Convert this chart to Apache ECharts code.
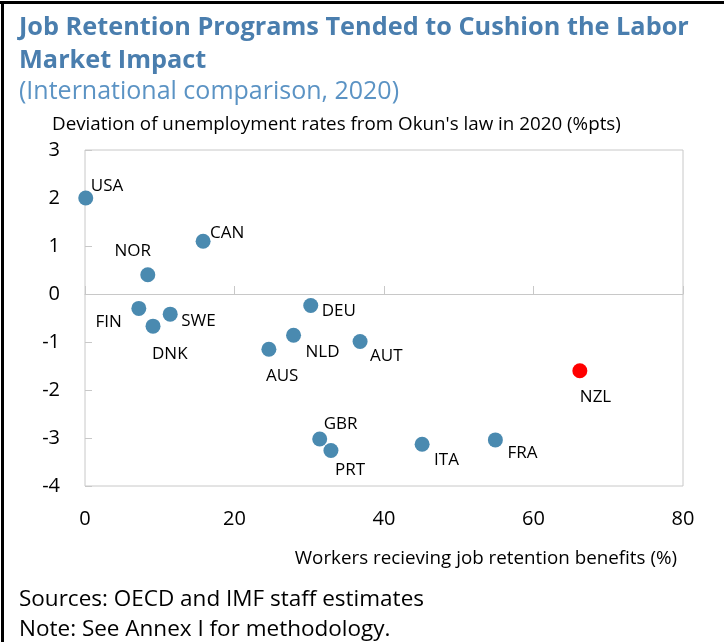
<!DOCTYPE html>
<html>
<head>
<meta charset="utf-8">
<script src="https://cdn.jsdelivr.net/npm/echarts@6/dist/echarts.min.js"></script>
<style>
  html, body { margin: 0; padding: 0; background: #fff; }
  #chart { width: 724px; height: 642px; }
</style>
</head>
<body>
<div id="chart"></div>
<script>
  // countries and their values
  const countries = ['USA', 'CAN', 'NOR', 'FIN', 'SWE', 'DNK', 'DEU', 'NLD', 'AUS', 'AUT', 'GBR', 'PRT', 'ITA', 'FRA', 'NZL']
  const benefitsPct = [0.1, 15.8, 8.4, 7.2, 11.4, 9.1, 30.2, 27.9, 24.6, 36.8, 31.4, 32.9, 45.1, 54.9, 66.2]
  const okunDeviation = [2.0, 1.1, 0.4, -0.3, -0.42, -0.67, -0.24, -0.86, -1.15, -0.99, -3.02, -3.26, -3.13, -3.04, -1.6]
  const highlight = 'NZL'

  const xTicks = [0, 20, 40, 60, 80]
  const yTicks = [-4, -3, -2, -1, 0, 1, 2, 3]

  // label placement next to each dot (px offset from the dot centre)
  const labelPlace = {
    USA: [5, -12, 'left'], CAN: [7, -8, 'left'], NOR: [-15, -24, 'center'],
    FIN: [-17, 14, 'right'], SWE: [11, 7, 'left'], DNK: [-1, 28, 'left'],
    DEU: [11, 6, 'left'], NLD: [12, 17, 'left'], AUS: [-3, 27, 'left'],
    AUT: [10, 15, 'left'], GBR: [4, -15, 'left'], PRT: [4, 20, 'left'],
    ITA: [12, 16, 'left'], FRA: [12, 13, 'left'], NZL: [0, 26, 'left']
  }

  const font = '"Open Sans", "Noto Sans", sans-serif'
  const blue = '#4a8ab0'
  const frame = '#c8c8c8'

  const points = countries.map((c, i) => {
    const p = labelPlace[c]
    return {
      name: c,
      value: [benefitsPct[i], okunDeviation[i]],
      itemStyle: { color: c === highlight ? '#ff0000' : blue, opacity: 1 },
      label: {
        show: true,
        position: 'inside',
        offset: [p[0], p[1]],
        align: p[2],
        verticalAlign: 'middle',
        formatter: c,
        color: '#000',
        fontSize: 17,
        fontFamily: font
      }
    }
  })

  const chart = echarts.init(document.getElementById('chart'), null, { renderer: 'canvas' })
  chart.setOption({
    animation: false,
    backgroundColor: '#fff',
    textStyle: { fontFamily: font },
    title: [
      {
        text: 'Job Retention Programs Tended to Cushion the Labor\nMarket Impact',
        left: 14,
        top: 6,
        textStyle: { color: '#4a7eae', fontSize: 25.3, fontWeight: 'bold', lineHeight: 33, fontFamily: font }
      },
      {
        text: '(International comparison, 2020)',
        left: 14,
        top: 71,
        textStyle: { color: '#5b93c4', fontSize: 25, fontWeight: 'normal', lineHeight: 32, fontFamily: font }
      },
      {
        text: 'Sources: OECD and IMF staff estimates\nNote: See Annex I for methodology.',
        left: 14,
        top: 580,
        textStyle: { color: '#000', fontSize: 22.5, fontWeight: 'normal', lineHeight: 30, fontFamily: font }
      }
    ],
    graphic: [
      { type: 'rect', shape: { x: 0, y: 1, width: 724, height: 3 }, style: { fill: '#000' } },
      { type: 'rect', shape: { x: 1, y: 1, width: 3, height: 642 }, style: { fill: '#000' } },
      {
        type: 'text', left: 52, top: 115,
        style: { text: "Deviation of unemployment rates from Okun's law in 2020 (%pts)", fill: '#000', font: '18.8px ' + font }
      },
      {
        type: 'text', right: 47, top: 549,
        style: { text: 'Workers recieving job retention benefits (%)', fill: '#000', font: '18.8px ' + font }
      }
    ],
    grid: {
      left: 85, right: 41, top: 150, bottom: 156,
      show: true, borderColor: frame, borderWidth: 1, backgroundColor: 'transparent'
    },
    xAxis: [
      {
        type: 'value', position: 'bottom',
        min: xTicks[0], max: xTicks[xTicks.length - 1], interval: 20,
        axisLine: { show: false, onZero: false },
        axisTick: { show: false },
        splitLine: { show: false },
        axisLabel: { color: '#000', fontSize: 20, margin: 23, fontFamily: font }
      },
      {
        type: 'value', position: 'bottom',
        min: xTicks[0], max: xTicks[xTicks.length - 1], interval: 20,
        axisLine: { show: true, onZero: true, lineStyle: { color: frame, width: 1 } },
        axisTick: { show: true, inside: true, length: 8, lineStyle: { color: frame } },
        splitLine: { show: false },
        axisLabel: { show: false }
      }
    ],
    yAxis: {
      type: 'value',
      min: yTicks[0], max: yTicks[yTicks.length - 1], interval: 1,
      axisLine: { show: false },
      axisTick: { show: true, inside: true, length: 7, lineStyle: { color: frame } },
      splitLine: { show: false },
      axisLabel: { color: '#000', fontSize: 20, margin: 25, fontFamily: font }
    },
    series: [
      {
        type: 'scatter',
        xAxisIndex: 1,
        symbolSize: 15,
        data: points
      }
    ]
  })
</script>
</body>
</html>
